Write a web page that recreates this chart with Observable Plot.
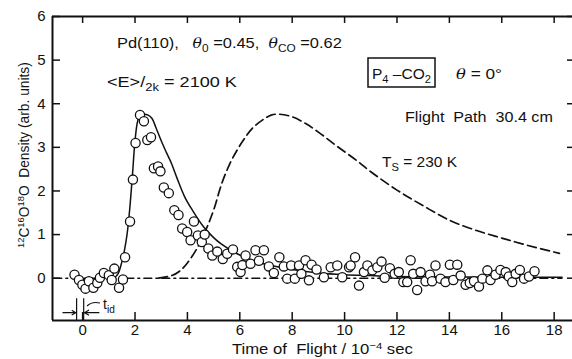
<!DOCTYPE html>
<html><head><meta charset="utf-8">
<script src="https://cdn.jsdelivr.net/npm/d3@7"></script>
<script src="https://cdn.jsdelivr.net/npm/@observablehq/plot@0.6"></script>
<style>
html,body{margin:0;padding:0;background:#fff;}
#chart{position:relative;width:572px;height:359px;overflow:hidden;}
#chart svg{font-family:"Liberation Sans",Arial,sans-serif;}
</style></head><body><div id="chart"></div>
<script>
// Measured points: time of flight (1e-4 s) and 12C16O18O density (arb. units)
const flightTime = [-0.31,-0.14,-0.01,0.11,0.24,0.41,0.56,0.66,0.81,1.00,1.11,1.21,1.39,1.54,1.62,1.81,1.92,2.02,2.19,2.34,2.47,2.61,2.72,2.88,2.97,3.10,3.29,3.50,3.66,3.80,3.99,4.12,4.25,4.40,4.55,4.66,4.80,4.95,5.14,5.35,5.52,5.74,5.90,6.03,6.10,6.22,6.41,6.60,6.73,6.92,7.11,7.30,7.51,7.68,7.81,7.96,8.10,8.26,8.35,8.51,8.64,8.74,8.93,9.21,9.47,9.72,9.91,10.17,10.23,10.40,10.55,10.74,10.87,11.06,11.25,11.41,11.53,11.73,11.91,12.07,12.24,12.39,12.52,12.62,12.77,12.90,13.09,13.26,13.34,13.47,13.66,13.85,14.02,14.15,14.30,14.43,14.62,14.78,14.94,15.13,15.26,15.45,15.57,15.76,15.95,16.15,16.27,16.40,16.53,16.69,16.85,17.04,17.25];
const density = [0.08,-0.04,-0.15,-0.24,-0.07,-0.22,-0.11,0.01,0.12,0.07,-0.04,0.22,-0.22,-0.03,0.48,1.30,2.26,3.10,3.74,3.60,3.17,3.23,2.52,2.56,2.45,2.08,1.95,1.56,1.45,1.14,1.06,0.87,1.30,0.98,0.83,1.00,0.68,0.52,0.61,0.44,0.56,0.66,0.26,0.14,0.30,0.52,0.33,0.64,0.40,0.64,0.27,0.12,0.48,0.27,-0.01,0.29,-0.01,0.29,0.10,0.41,-0.05,0.31,0.20,0.02,0.25,0.29,0.02,0.25,0.29,0.48,-0.17,0.14,0.29,0.18,0.25,0.38,0.01,0.23,0.10,0.14,-0.09,-0.09,0.41,0.10,-0.27,0.14,-0.07,0.08,-0.07,0.29,-0.01,-0.09,0.31,-0.04,0.31,0.06,-0.15,-0.11,-0.07,-0.19,-0.01,0.18,-0.04,0.08,0.19,0.14,0.04,-0.09,0.10,0.19,-0.01,0.04,0.16];

// Solid fitted curve (<E>/2k = 2100 K)
const fitTime = [1.2,1.35,1.5,1.6,1.7,1.8,1.9,2.0,2.1,2.2,2.35,2.5,2.65,2.8,3.0,3.2,3.4,3.6,3.9,4.2,4.6,5.0,5.3,5.9,6.5,7.2,8.0,9.0,10,11,12,14,16,18.3];
const fitDensity = [0,0.1,0.38,0.65,1.02,1.6,2.35,3.15,3.6,3.74,3.76,3.74,3.66,3.45,3.15,2.88,2.62,2.3,1.86,1.55,1.19,0.93,0.78,0.56,0.4,0.29,0.2,0.12,0.08,0.06,0.04,0.03,0.02,0.02];

// Dashed curve (Ts = 230 K)
const tsTime = [2.9,3.4,3.7,4.0,4.4,4.7,5.0,5.3,5.6,5.9,6.2,6.5,6.9,7.2,7.5,8.0,8.5,9.0,9.7,10.5,11.0,12.0,13.0,14.0,15.0,16.0,17.0,18.2];
const tsDensity = [0,0.06,0.16,0.35,0.72,1.1,1.56,2.15,2.6,2.94,3.22,3.45,3.64,3.74,3.76,3.70,3.55,3.35,3.03,2.68,2.44,2.02,1.66,1.33,1.1,0.92,0.75,0.57];

// Zero baseline (dash-dot)
const baseTime = [-1.1, 18.3];
const baseDensity = [0, 0];

// t_id marker positions
const tidLines = [-0.23, 0.04];

// Axes
const xTicks = [0,2,4,6,8,10,12,14,16,18];
const yTicks = [0,1,2,3,4,5,6];
const xDomain = [-1.15, 18.7];
const yDomain = [-0.97, 6];

const pts = flightTime.map((t, i) => ({t, d: density[i]}));
const fit = fitTime.map((t, i) => ({t, d: fitDensity[i]}));
const ts = tsTime.map((t, i) => ({t, d: tsDensity[i]}));
const base = baseTime.map((t, i) => ({t, d: baseDensity[i]}));

const ink = "#111";
const blank = () => "";

const svg = Plot.plot({
  width: 572, height: 359,
  marginLeft: 52, marginRight: 0, marginTop: 16, marginBottom: 39,
  style: {fontFamily: '"Liberation Sans", Arial, sans-serif', fontSize: "15px", color: ink, background: "white"},
  x: {domain: xDomain},
  y: {domain: yDomain},
  marks: [
    Plot.ruleX([xDomain[0]], {stroke: ink, strokeWidth: 2}),
    Plot.ruleY([yDomain[0]], {stroke: ink, strokeWidth: 2}),
    Plot.ruleY([yDomain[1]], {stroke: ink, strokeWidth: 2}),
    Plot.axisX(xTicks, {anchor: "bottom", tickSize: 0, tickPadding: 4, label: null, fontSize: 15}),
    Plot.axisY(yTicks, {anchor: "left", tickSize: 0, tickPadding: 7, label: null, fontSize: 15}),
    Plot.axisX(xTicks, {anchor: "bottom", tickSize: 8, dy: -8, tickFormat: blank, label: null, strokeWidth: 1.5}),
    Plot.axisX(xTicks, {anchor: "top", tickSize: 6, dy: 6, tickFormat: blank, label: null, strokeWidth: 1.5}),
    Plot.axisY(yTicks, {anchor: "left", tickSize: 8, dx: 8, tickFormat: blank, label: null, strokeWidth: 1.5}),
    Plot.axisY(yTicks, {anchor: "right", tickSize: 6, dx: -6, tickFormat: blank, label: null, strokeWidth: 1.5}),
    Plot.line(base, {x: "t", y: "d", stroke: ink, strokeWidth: 1.4, strokeDasharray: "8,4,2,4"}),
    Plot.line(ts, {x: "t", y: "d", stroke: ink, strokeWidth: 1.7, strokeDasharray: "9,4.5", curve: "catmull-rom"}),
    Plot.line(fit, {x: "t", y: "d", stroke: ink, strokeWidth: 1.5, curve: "catmull-rom"}),
    Plot.ruleX(tidLines, {y1: -0.47, y2: yDomain[0], stroke: ink, strokeWidth: 1.2}),
    Plot.arrow([{x1: -0.75, x2: tidLines[0] - 0.03}, {x1: 0.62, x2: tidLines[1] + 0.03}], {x1: "x1", x2: "x2", y1: -0.79, y2: -0.79, stroke: ink, strokeWidth: 1.2, headLength: 6, bend: false}),
    Plot.dot(pts, {x: "t", y: "d", r: 4.6, fill: "white", stroke: ink, strokeWidth: 1.3})
  ]
});
document.getElementById("chart").append(svg);

// ---- annotations ----
const S = d3.select(svg);
function rich(parent, x, y, parts, size, anchor = "start") {
  const t = parent.append("text").attr("x", x).attr("y", y).attr("font-size", size)
    .attr("fill", ink).attr("text-anchor", anchor)
    .style("font-family", '"Liberation Sans", Arial, sans-serif');
  let shift = 0;
  for (const [str, kind] of parts) {
    const sp = t.append("tspan").text(str);
    let want = 0;
    if (kind === "sub") { want = size * 0.28; sp.attr("font-size", size * 0.72); }
    if (kind === "sup") { want = -size * 0.38; sp.attr("font-size", size * 0.68); }
    if (kind === "it") { sp.attr("font-style", "italic").style("font-family", '"DejaVu Serif", serif').attr("font-size", size * 0.95); }
    if (want !== shift) { sp.attr("dy", want - shift); shift = want; }
  }
  return t;
}
// stretch a text horizontally so it spans x0..x1
function span(t, x0, x1) {
  const b = t.node().getBBox();
  const sx = (x1 - x0) / b.width;
  t.attr("transform", `translate(${x0},0) scale(${sx},1) translate(${-b.x},0)`);
}
span(rich(S, 117, 48, [["Pd(110),   ", ""], ["θ", "it"], ["0", "sub"], [" =0.45,  ", ""], ["θ", "it"], ["CO", "sub"], [" =0.62", ""]], 15), 117, 342);
span(rich(S, 107, 87, [["<E>", ""], ["/", ""], ["2k", "sub"], [" = 2100 K", ""]], 15), 107, 237);
S.append("rect").attr("x", 368).attr("y", 58).attr("width", 67).attr("height", 29)
  .attr("fill", "none").attr("stroke", ink).attr("stroke-width", 1.5);
span(rich(S, 372, 79, [["P", ""], ["4", "sub"], [" –CO", ""], ["2", "sub"]], 15), 372, 431);
span(rich(S, 456, 79, [["θ", "it"], [" = 0°", ""]], 15), 456, 502);
span(rich(S, 405, 122, [["Flight  Path  30.4 cm", ""]], 15), 405, 553);
span(rich(S, 382, 167, [["T", ""], ["S", "sub"], [" = 230 K", ""]], 15), 382, 457);
rich(S, 103, 309, [["t", ""], ["id", "sub"]], 14);
S.append("path").attr("d", "M100,303 Q92,301 87,306").attr("fill", "none").attr("stroke", ink).attr("stroke-width", 1.1);
span(rich(S, 232, 354, [["Time of  Flight / 10", ""], ["−4", "sup"], [" sec", ""]], 14), 232, 413);
const g = S.append("g").attr("transform", "translate(29,155) rotate(-90)");
const yl = rich(g, 0, 0, [["12", "sup"], ["C", ""], ["16", "sup"], ["O", ""], ["18", "sup"], ["O", ""], ["  Density (arb. units)", ""]], 14);
span(yl, -93, 93);
</script></body></html>
